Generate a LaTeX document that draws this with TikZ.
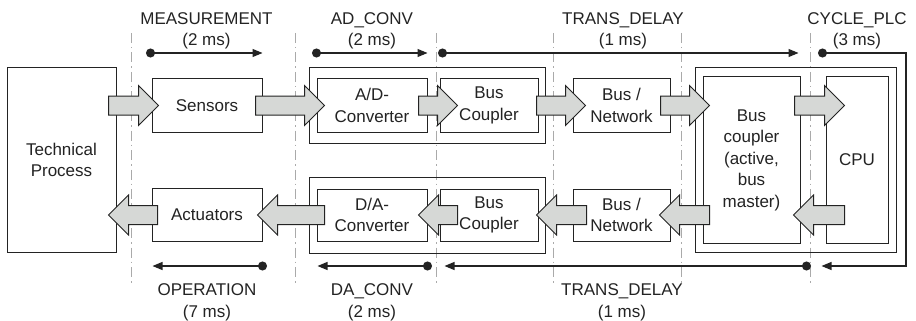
\documentclass[tikz,border=0pt]{standalone}
\usepackage{fontspec}
\setmainfont{Liberation Sans}
\usetikzlibrary{arrows.meta,calc,fit}

\definecolor{arrowgray}{RGB}{214,216,214}
\definecolor{gridgray}{RGB}{170,170,170}
\definecolor{inkgray}{RGB}{35,35,35}

\tikzset{
  unit/.style={draw=inkgray,line width=1pt,fill=white,align=center,inner sep=0pt},
  group/.style={draw=inkgray,line width=1pt,inner sep=0pt},
  lbl/.style={align=center,text=inkgray},
  phase/.style={draw=gridgray,line width=1pt,dash pattern=on 10pt off 4pt on 1.5pt off 4pt},
  tline/.style={draw=inkgray,line width=1.1pt,{Circle[length=9pt]}-{Triangle[length=10pt,width=8pt]}},
  blockarrow/.style={draw=inkgray,fill=arrowgray,line width=1pt,
    to path={let \p1=(\tikztostart),\p2=(\tikztotarget),\n1={ifthenelse(\x2>\x1,1,-1)} in
      (\x1,\y1+9.5pt) -- ({\x2-(\n1)*20pt},\y1+9.5pt) -- ({\x2-(\n1)*20pt},\y1+20pt)
      -- (\x2,\y1) -- ({\x2-(\n1)*20pt},\y1-20pt) -- ({\x2-(\n1)*20pt},\y1-9.5pt)
      -- (\x1,\y1-9.5pt) -- cycle}}
}

\begin{document}
\begin{tikzpicture}[x=1pt,y=-1pt,font=\fontsize{17pt}{21.5pt}\selectfont,text=inkgray]
\useasboundingbox (0,0) rectangle (916,321);

% phase borders
\foreach \x in {131,295,436,553,681,810}
  \draw[phase] (\x,33) -- (\x,286);

% units
\node[unit,minimum width=109pt,minimum height=184pt] (proc) at (61.5,160) {Technical\\Process};
\node[unit,minimum width=110pt,minimum height=53pt] (sensors) at (207,105.5) {Sensors};
\node[unit,minimum width=110pt,minimum height=53pt] (act) at (207,215) {Actuators};
\node[unit,minimum width=110pt,minimum height=53pt] (adc) at (372,105.5) {A/D-\\Converter};
\node[unit,minimum width=110pt,minimum height=52pt] (dac) at (372,215) {D/A-\\Converter};
\node[unit,minimum width=98pt,minimum height=53pt] (bcin) at (489,105.5) {Bus\\Coupler};
\node[unit,minimum width=98pt,minimum height=52pt] (bcout) at (489,215) {Bus\\Coupler};
\node[unit,minimum width=97pt,minimum height=53pt] (netin) at (621.5,105.5) {Bus /\\Network};
\node[unit,minimum width=97pt,minimum height=52pt] (netout) at (621.5,215) {Bus /\\Network};
\node[unit,minimum width=97pt,minimum height=167pt] (master) at (751.5,160) {Bus\\coupler\\(active,\\bus\\master)};
\node[unit,minimum width=62pt,minimum height=167pt] (cpu) at (857,160) {CPU};

% module frames
\node[group,fit=(adc)(bcin),inner xsep=7pt,inner ysep=11pt] (adgrp) {};
\node[group,fit=(dac)(bcout),inner xsep=7pt,inner ysep=11.5pt] (dagrp) {};
\node[group,fit=(master)(cpu),inner xsep=7.5pt,inner ysep=8.5pt] (plcgrp) {};

% signal flow, input side
\draw[blockarrow] ($(proc.east|-sensors)+(-8,0)$) to ($(sensors.west)+(7,0)$);
\draw[blockarrow] ($(sensors.east)+(-7,0)$) to ($(adc.west)+(8,0)$);
\draw[blockarrow] ($(adc.east)+(-9,0)$) to ($(bcin.west)+(18,0)$);
\draw[blockarrow] ($(bcin.east)+(-2,0)$) to ($(netin.west)+(13,0)$);
\draw[blockarrow] ($(netin.east)+(-10,0)$) to ($(master.west|-netin)+(7,0)$);
\draw[blockarrow] ($(master.east|-netin)+(-6,0)$) to ($(cpu.west|-netin)+(19,0)$);

% signal flow, output side
\draw[blockarrow] ($(cpu.west|-netout)+(19,0)$) to ($(master.east|-netout)+(-7,0)$);
\draw[blockarrow] ($(master.west|-netout)+(7,0)$) to ($(netout.east)+(-11,0)$);
\draw[blockarrow] ($(netout.west)+(14,0)$) to ($(bcout.east)+(-2,0)$);
\draw[blockarrow] ($(bcout.west)+(18,0)$) to ($(dac.east)+(-9,0)$);
\draw[blockarrow] ($(dac.west)+(8,0)$) to ($(act.east)+(-5,0)$);
\draw[blockarrow] ($(act.west)+(6,0)$) to ($(proc.east|-act)+(-8,0)$);

% time lines
\coordinate (top) at (0,53);
\coordinate (bot) at (0,266);
\coordinate (loop) at (906,0);
\draw[tline] ($(sensors.west|-top)+(-5.5,0)$) -- (sensors.east|-top);
\draw[tline] ($(adc.west|-top)+(-4.5,0)$) -- (adc.east|-top);
\draw[tline] ($(bcin.west|-top)+(-1.5,0)$) -- ($(master.east|-top)+(-2,0)$);
\draw[tline] ($(cpu.west|-top)+(-7.5,0)$) -- (loop|-top) -- (loop|-bot) -- ($(cpu.west|-bot)+(-4,0)$);
\draw[tline] ($(master.east|-bot)+(10.5,0)$) -- ($(bcout.west|-bot)+(5,0)$);
\draw[tline] ($(dac.east|-bot)+(4.5,0)$) -- ($(dac.west|-bot)+(1,0)$);
\draw[tline] ($(act.east|-bot)+(4.5,0)$) -- ($(act.west|-bot)+(1,0)$);

% phase names
\node[lbl] (measlbl) at (206.5,31) {MEASUREMENT\\(2 ms)};
\node[lbl] (adlbl) at (372,31) {AD\_CONV\\(2 ms)};
\node[lbl] (trinlbl) at (623,31) {TRANS\_DELAY\\(1 ms)};
\node[lbl] (cyclbl) at (857,31) {CYCLE\_PLC\\(3 ms)};
\node[lbl] (oplbl) at (207,302.5) {OPERATION\\(7 ms)};
\node[lbl] (dalbl) at (372,302.5) {DA\_CONV\\(2 ms)};
\node[lbl] (troutlbl) at (622,302.5) {TRANS\_DELAY\\(1 ms)};
\end{tikzpicture}
\end{document}
